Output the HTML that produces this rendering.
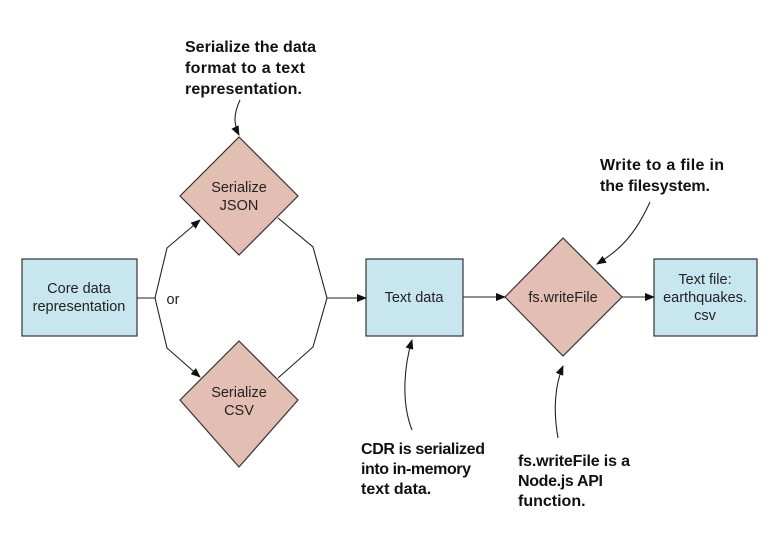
<!DOCTYPE html>
<html><head><style>html,body{margin:0;padding:0;background:#fff;}</style></head>
<body>
<svg width="772" height="530" viewBox="0 0 772 530" xmlns="http://www.w3.org/2000/svg">
<defs>
<marker id="a" markerWidth="10" markerHeight="8" refX="9" refY="4" orient="auto" markerUnits="userSpaceOnUse">
<path d="M0,0 L10,4 L0,8 Z" fill="#111"/></marker>
</defs>
<g stroke="#333" stroke-width="1.2" font-family="Liberation Sans, sans-serif">
<rect x="22" y="259" width="115" height="77" fill="#c8e6f0"/>
<rect x="366" y="259" width="97" height="77" fill="#c8e6f0"/>
<rect x="654" y="259" width="103" height="77" fill="#c8e6f0"/>
<polygon points="239,137 298,196 239,255 180,196" fill="#e3beb3"/>
<polygon points="239,341 298,400 239,467 180,400" fill="#e3beb3"/>
<polygon points="563,238 622,297 563,356 505,297" fill="#e3beb3"/>
</g>
<g stroke="#222" stroke-width="1.1" fill="none">
<polyline points="137,298 155,298 167,248 200,220" marker-end="url(#a)"/>
<polyline points="155,298 167,348 200,377" marker-end="url(#a)"/>
<polyline points="278,218 313,247 327,298 366,298" marker-end="url(#a)"/>
<polyline points="278,378 313,347 327,298"/>
<line x1="463" y1="297" x2="505" y2="297" marker-end="url(#a)"/>
<line x1="622" y1="297" x2="654" y2="297" marker-end="url(#a)"/>
<path d="M240,100 C233,115 234,125 239,135" marker-end="url(#a)"/>
<path d="M650,202 C635,235 620,250 597,264" marker-end="url(#a)"/>
<path d="M412,430 C402,405 403,370 412,340" marker-end="url(#a)"/>
<path d="M558,438 C553,410 555,385 563,366" marker-end="url(#a)"/>
</g>
<g font-family="Liberation Sans, sans-serif" font-size="14.5" fill="#222" text-anchor="middle">
<text x="79" y="293">Core data</text>
<text x="79" y="311">representation</text>
<text x="239" y="192">Serialize</text>
<text x="239" y="210">JSON</text>
<text x="239" y="397">Serialize</text>
<text x="239" y="415">CSV</text>
<text x="414" y="302">Text data</text>
<text x="563" y="302">fs.writeFile</text>
<text x="705" y="284">Text file:</text>
<text x="705" y="302">earthquakes.</text>
<text x="705" y="320">csv</text>
<text x="173" y="304" text-anchor="middle">or</text>
</g>
<g font-family="Liberation Sans, sans-serif" font-size="16" font-weight="bold" fill="#111">
<text x="185" y="52" textLength="131">Serialize the data</text>
<text x="185" y="73" textLength="120">format to a text</text>
<text x="185" y="94" textLength="117">representation.</text>
<text x="600" y="170" textLength="124">Write to a file in</text>
<text x="600" y="191" textLength="110">the filesystem.</text>
<text x="361" y="454" textLength="124">CDR is serialized</text>
<text x="361" y="474" textLength="110">into in-memory</text>
<text x="361" y="494">text data.</text>
<text x="518" y="466" textLength="112">fs.writeFile is a</text>
<text x="518" y="486" textLength="85">Node.js API</text>
<text x="518" y="506">function.</text>
</g>
</svg>
</body></html>
